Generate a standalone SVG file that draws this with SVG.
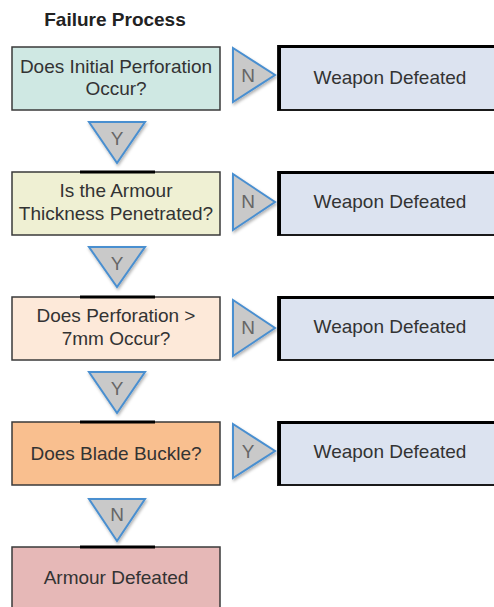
<svg xmlns="http://www.w3.org/2000/svg" width="494" height="607" viewBox="0 0 494 607">
<defs>
<filter id="sh" x="-30%" y="-30%" width="160%" height="160%">
<feDropShadow dx="1" dy="2" stdDeviation="1.5" flood-color="#000" flood-opacity="0.3"/>
</filter>
</defs>
<style>
.box{stroke:#3a3a3a;stroke-width:1.5}
.wd{fill:#dce3f0;stroke:#1a1a1a;stroke-width:2}
.edge{fill:none;stroke:#000;stroke-width:3}
.tri{fill:#c9c9c9;stroke:#4a8fd0;stroke-width:2;stroke-linejoin:miter;filter:url(#sh)}
.t{font-family:"Liberation Sans",Arial,sans-serif;font-size:19px;fill:#333;text-anchor:middle}
.tl{font-family:"Liberation Sans",Arial,sans-serif;font-size:19px;fill:#666;text-anchor:middle}
.title{font-family:"Liberation Sans",Arial,sans-serif;font-size:19px;font-weight:bold;fill:#222;text-anchor:middle}
</style>
<rect width="494" height="607" fill="#fff"/>
<text class="title" x="115" y="26">Failure Process</text>

<g id="q1">
<rect class="box" x="12" y="47" width="208" height="63" fill="#cfe8e3"/>
<text class="t" x="116" y="73">Does Initial Perforation</text>
<text class="t" x="116" y="95">Occur?</text>
</g>
<g id="q2">
<rect class="box" x="12" y="172" width="208" height="63" fill="#eff0d3"/>
<text class="t" x="116" y="197">Is the Armour</text>
<text class="t" x="116" y="220">Thickness Penetrated?</text>
</g>
<g id="q3">
<rect class="box" x="12" y="297" width="208" height="63" fill="#fde9d9"/>
<text class="t" x="116" y="322">Does Perforation &gt;</text>
<text class="t" x="116" y="345">7mm Occur?</text>
</g>
<g id="q4">
<rect class="box" x="12" y="422" width="208" height="63" fill="#f9bf8f"/>
<text class="t" x="116" y="460">Does Blade Buckle?</text>
</g>
<g id="end">
<rect class="box" x="12" y="547" width="208" height="70" fill="#e6b8b7"/>
<text class="t" x="116" y="584">Armour Defeated</text>
</g>

<g id="w1">
<rect class="wd" x="278" y="46" width="230" height="64"/>
<path class="edge" d="M279.5,110 V46.5 H494"/>
<text class="t" x="390" y="84">Weapon Defeated</text>
</g>
<g id="w2">
<rect class="wd" x="278" y="172" width="230" height="63"/>
<path class="edge" d="M279.5,235 V172.5 H494"/>
<text class="t" x="390" y="208">Weapon Defeated</text>
</g>
<g id="w3">
<rect class="wd" x="278" y="297" width="230" height="63"/>
<path class="edge" d="M279.5,360 V297.5 H494"/>
<text class="t" x="390" y="333">Weapon Defeated</text>
</g>
<g id="w4">
<rect class="wd" x="278" y="422" width="230" height="63"/>
<path class="edge" d="M279.5,485 V422.5 H494"/>
<text class="t" x="390" y="458">Weapon Defeated</text>
</g>

<g id="connectors">
<path class="edge" d="M80,172 H155 M80,297 H155 M80,422 H155 M80,547 H155" stroke-width="2.5"/>
<polygon class="tri" points="233,48 275,75 233,102"/>
<text class="tl" x="248" y="82">N</text>
<polygon class="tri" points="233,174 275,202 233,230"/>
<text class="tl" x="248" y="208">N</text>
<polygon class="tri" points="233,300 275,328 233,356"/>
<text class="tl" x="248" y="334">N</text>
<polygon class="tri" points="233,424 275,451 233,478"/>
<text class="tl" x="248" y="458">Y</text>

<polygon class="tri" points="89,122 145,122 117,163"/>
<text class="tl" x="117" y="145">Y</text>
<polygon class="tri" points="89,247 145,247 117,287"/>
<text class="tl" x="117" y="270">Y</text>
<polygon class="tri" points="89,372 145,372 117,413"/>
<text class="tl" x="117" y="395">Y</text>
<polygon class="tri" points="89,499 145,499 117,541"/>
<text class="tl" x="117" y="521">N</text>
</g>
</svg>
